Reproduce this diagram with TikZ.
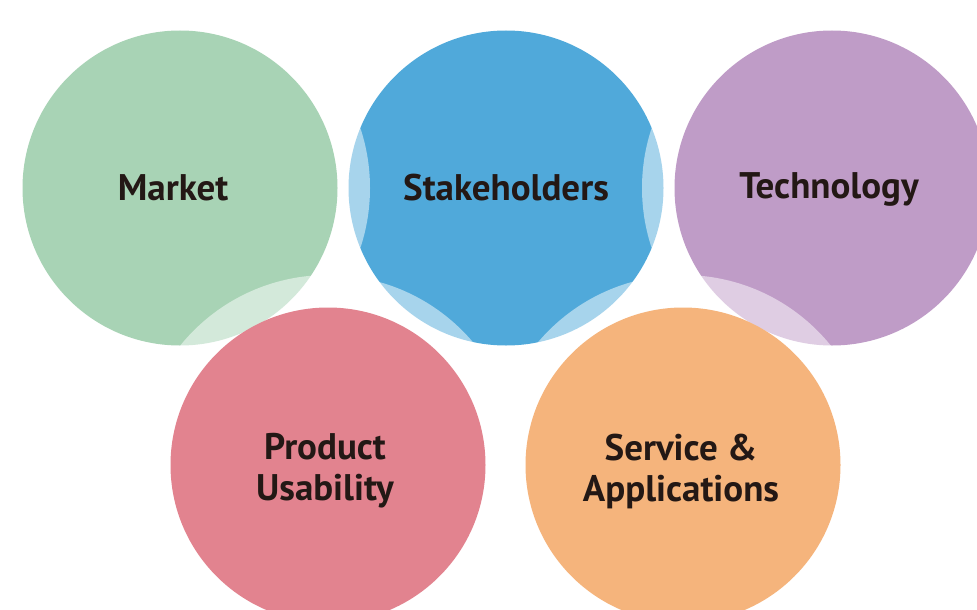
\documentclass[tikz,border=0pt]{standalone}
\usepackage{fontspec}
\setmainfont{PT Sans}
\usepackage{tikz}
\usetikzlibrary{positioning}

\definecolor{mktgreen}{HTML}{A8D3B5}
\definecolor{stkblue}{HTML}{50A9DA}
\definecolor{techpurple}{HTML}{BF9CC7}
\definecolor{prodpink}{HTML}{E2838F}
\definecolor{servorange}{HTML}{F5B47C}
\definecolor{labeltext}{HTML}{231815}

\tikzset{
    area/.style={circle,minimum size=315pt,inner sep=0pt,draw=none},
    halo/.style={circle,minimum size=380pt,inner sep=0pt,draw=none,fill=white,fill opacity=0.5},
    areatext/.style={font=\bfseries\fontsize{37}{41}\selectfont,text=labeltext,align=center}
}

\begin{document}
\begin{tikzpicture}[x=1pt,y=-1pt]
            \useasboundingbox (0,0) rectangle (977,610);
            \clip (0,0) rectangle (977,610);

            % top row
            \node [area,fill=stkblue] (stake) at (506,188) {};
            \node [halo] (markethalo) at (180,188) {};
            \node [area,fill=mktgreen] (market) at (180,188) {};
            \node [halo] (techhalo) at (832,188) {};
            \node [area,fill=techpurple] (tech) at (832,188) {};

            % bottom row
            \node [halo] (producthalo) at (328,465) {};
            \node [area,fill=prodpink] (product) at (328,465) {};
            \node [halo] (servicehalo) at (683,465) {};
            \node [area,fill=servorange] (service) at (683,465) {};

            \node [areatext] (marketlabel) at (173,188) {Market};
            \node [areatext] (stakelabel) at (506,188) {Stakeholders};
            \node [areatext] (techlabel) at (829,189) {Technology};
            \node [areatext] (productlabel) at (325,471) {Product\\Usability};
            \node [areatext] (servicelabel) at (681,471) {Service \&\\Applications};
        \end{tikzpicture}
\end{document}
